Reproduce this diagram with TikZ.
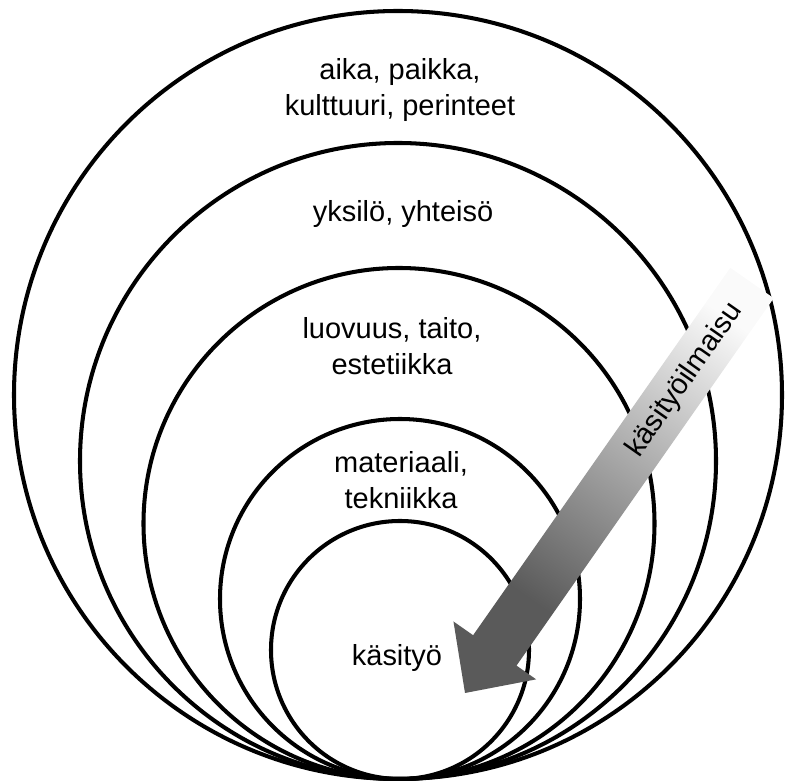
\documentclass[tikz,border=0pt]{standalone}
\usepackage{fontspec}
\setmainfont{Liberation Sans}
\usetikzlibrary{calc}
\definecolor{ArrowDark}{RGB}{90,90,90}
\definecolor{ArrowLight}{RGB}{250,250,250}
\pgfdeclarehorizontalshading{ilmaisuvarjo}{100bp}{color(0bp)=(ArrowDark); color(31bp)=(ArrowDark); color(76bp)=(ArrowLight); color(100bp)=(ArrowLight)}

\begin{document}
\begin{tikzpicture}[x=0.02cm, y=0.02cm,
    kerros/.style={draw=black, line width=2.3pt},
    teksti/.style={align=center, font=\fontsize{16.5}{20.5}\selectfont, inner sep=0pt},
    nuoli/.style={shading=ilmaisuvarjo, shading angle=55}]
  \useasboundingbox (0,0) rectangle (785,781);
  % sisakkaiset kehat, kaikki sivuavat alareunaa
  \draw[kerros] (398,386) circle (384);
  \draw[kerros] (398,320) circle (318);
  \draw[kerros] (399,257.5) circle (255.5);
  \draw[kerros] (400,182) circle (180);
  \draw[kerros] (400,131) circle (129);

  \node[teksti] (aika)   at (400,691) {aika, paikka,\\ kulttuuri, perinteet};
  \node[teksti] (yksilo) at (403,567) {yksilö, yhteisö};
  \node[teksti] (luovuus) at (392,435) {luovuus, taito,\\ estetiikka};
  \node[teksti] (materiaali) at (401,301) {materiaali,\\ tekniikka};
  \node[teksti] (kasityo) at (397,123) {käsityö};

  % liukuvarjostettu nuoli
  \coordinate (alku)  at (752,498);
  \coordinate (karki) at (465,88);
  \coordinate (kanta) at ($(karki)!1.04cm!(alku)$);
  \shade[nuoli] ($(alku)!0.53cm!90:(karki)$) -- ($(kanta)!0.53cm!90:(karki)$)
    -- ($(kanta)!1.01cm!90:(karki)$) -- (karki) -- ($(kanta)!1.01cm!-90:(karki)$)
    -- ($(kanta)!0.53cm!-90:(karki)$) -- ($(alku)!0.53cm!-90:(karki)$) -- cycle;
  \node[teksti, rotate=55] (ilmaisu) at (685,401) {käsityöilmaisu};
\end{tikzpicture}
\end{document}
